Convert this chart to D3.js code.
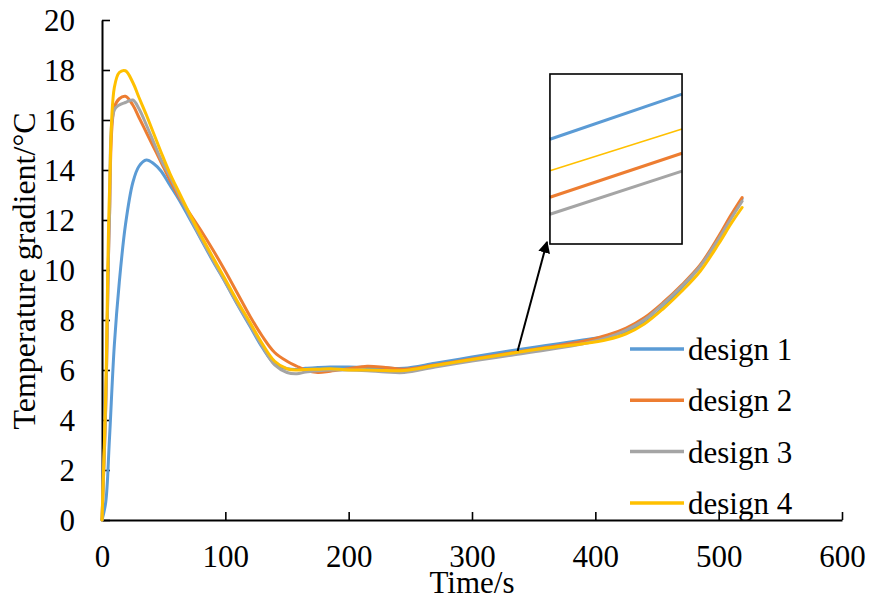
<!DOCTYPE html>
<html><head><meta charset="utf-8">
<script src="https://cdn.jsdelivr.net/npm/d3@7/dist/d3.min.js"></script>
<style>body{margin:0;background:#fff}svg{display:block}</style>
</head><body><svg id="c" width="871" height="601"></svg>
<script>
// ---- data ----
const time    = [0, 3, 6, 10, 14, 19, 25, 30, 36, 42, 48, 55, 62, 70, 80, 90, 100, 110, 120, 130, 140, 150, 158, 165, 175, 185, 200, 215, 230, 245, 270, 300, 330, 360, 390, 410, 425, 440, 455, 470, 485, 500, 510, 519];
const design1 = [0, 0.7, 3.2, 7.0, 9.5, 11.8, 13.5, 14.15, 14.4, 14.25, 13.95, 13.4, 12.85, 12.15, 11.25, 10.35, 9.5, 8.6, 7.75, 6.9, 6.25, 6.05, 6.02, 6.07, 6.1, 6.12, 6.12, 6.1, 6.08, 6.07, 6.27, 6.52, 6.76, 6.98, 7.2, 7.35, 7.55, 7.9, 8.5, 9.3, 10.15, 11.25, 12.1, 12.85];
const design2 = [0, 4.5, 12.0, 16.5, 16.85, 16.95, 16.6, 16.1, 15.5, 14.9, 14.3, 13.6, 12.95, 12.35, 11.6, 10.8, 9.95, 9.05, 8.15, 7.35, 6.7, 6.35, 6.15, 6.0, 5.9, 5.95, 6.05, 6.15, 6.1, 6.03, 6.2, 6.44, 6.67, 6.9, 7.15, 7.4, 7.68, 8.1, 8.7, 9.4, 10.2, 11.35, 12.2, 12.9];
const design3 = [0, 4.5, 12.0, 16.4, 16.6, 16.7, 16.8, 16.45, 15.8, 15.1, 14.4, 13.75, 13.05, 12.25, 11.3, 10.4, 9.52, 8.63, 7.8, 6.95, 6.2, 5.9, 5.85, 5.92, 5.97, 6.0, 6.0, 5.97, 5.92, 5.9, 6.12, 6.36, 6.58, 6.8, 7.05, 7.3, 7.6, 8.02, 8.65, 9.35, 10.15, 11.25, 12.05, 12.75];
const design4 = [0, 5.0, 13.0, 17.3, 17.9, 17.97, 17.5, 16.9, 16.2, 15.45, 14.7, 13.87, 13.15, 12.35, 11.4, 10.5, 9.62, 8.73, 7.9, 7.05, 6.35, 6.05, 6.0, 6.02, 6.03, 6.05, 6.0, 6.0, 5.98, 5.98, 6.18, 6.42, 6.65, 6.88, 7.05, 7.22, 7.45, 7.85, 8.45, 9.15, 9.95, 11.05, 11.85, 12.5];

const seriesNames  = ["design 1", "design 2", "design 3", "design 4"];
const seriesColors = ["#5B9BD5", "#ED7D31", "#A5A5A5", "#FFC000"];

const xTicks = [0, 100, 200, 300, 400, 500, 600];
const yTicks = [0, 2, 4, 6, 8, 10, 12, 14, 16, 18, 20];

// inset (magnified view): relative positions of each series at its left and right edge
const insetPos = [0, 1];
const inset1 = [0.616, 0.882];
const inset2 = [0.275, 0.534];
const inset3 = [0.175, 0.429];
const inset4 = [0.431, 0.676];
const insetWidths = [3, 3, 3, 1.5];
// inset box and arrow, in chart data coordinates
const insetBoxTime  = [363.2, 470.3];
const insetBoxValue = [11.04, 17.84];
const arrowFrom = [337, 6.76];
const arrowTo   = [360.8, 11.12];

// ---- chart ----
const svg = d3.select("#c");
const x = d3.scaleLinear().domain([0, 600]).range([102, 842]);
const y = d3.scaleLinear().domain([0, 20]).range([520, 20]);
const font = "'Liberation Serif','Times New Roman',serif";

const allSeries = [design1, design2, design3, design4];
const line = d3.line().x((d, i) => x(time[i])).y(d => y(d)).curve(d3.curveCatmullRom.alpha(0.5));

// axes
const xAxis = d3.axisBottom(x).tickValues(xTicks).tickSizeInner(-8).tickSizeOuter(0).tickPadding(25);
const gx = svg.append("g").attr("transform", "translate(0,520)").call(xAxis);
const yAxis = d3.axisLeft(y).tickValues(yTicks).tickSizeInner(-8).tickSizeOuter(0).tickPadding(27);
const gy = svg.append("g").attr("transform", "translate(102,0)").call(yAxis);
[gx, gy].forEach(g => {
  g.attr("font-family", font).attr("font-size", 31);
  g.select(".domain").attr("stroke", "#000").attr("stroke-width", 2);
  g.selectAll(".tick line").attr("stroke", "#000").attr("stroke-width", 1.6);
  g.selectAll(".tick text").attr("fill", "#000").style("font-family", font).style("font-size", "31px");
});
gx.selectAll(".tick text").attr("dy", "0.71em");
gy.selectAll(".tick text").attr("dy", "0.34em");

// series lines
svg.append("g").selectAll("path").data(allSeries).join("path")
  .attr("d", d => line(d)).attr("fill", "none")
  .attr("stroke", (d, i) => seriesColors[i]).attr("stroke-width", 3)
  .attr("stroke-linejoin", "round").attr("stroke-linecap", "round");

// axis titles
svg.append("text").attr("x", 472).attr("y", 593).attr("text-anchor", "middle")
  .style("font-family", font).style("font-size", "31px").text("Time/s");
svg.append("text").attr("transform", "translate(35,271) rotate(-90)").attr("text-anchor", "middle")
  .style("font-family", font).style("font-size", "32px").text("Temperature gradient/°C");

// legend
const lg = svg.append("g");
seriesNames.forEach((n, i) => {
  const ly = 349 + i * 51.3;
  lg.append("line").attr("x1", 630).attr("x2", 684).attr("y1", ly).attr("y2", ly)
    .attr("stroke", seriesColors[i]).attr("stroke-width", 3.5);
  lg.append("text").attr("x", 688).attr("y", ly + 11).style("font-family", font).style("font-size", "31px").text(n);
});

// arrow
svg.append("defs").append("marker").attr("id", "ah").attr("viewBox", "0 0 10 10")
  .attr("refX", 9).attr("refY", 5).attr("markerWidth", 6).attr("markerHeight", 6)
  .attr("markerUnits", "strokeWidth").attr("orient", "auto")
  .append("path").attr("d", "M0,0 L10,5 L0,10 z").attr("fill", "#000");
svg.append("line").attr("x1", x(arrowFrom[0])).attr("y1", y(arrowFrom[1]))
  .attr("x2", x(arrowTo[0])).attr("y2", y(arrowTo[1]))
  .attr("stroke", "#000").attr("stroke-width", 2).attr("marker-end", "url(#ah)");

// inset
const bx0 = x(insetBoxTime[0]), bx1 = x(insetBoxTime[1]);
const by0 = y(insetBoxValue[1]), by1 = y(insetBoxValue[0]);
const ix = d3.scaleLinear().domain([0, 1]).range([bx0, bx1]);
const iy = d3.scaleLinear().domain([0, 1]).range([by1, by0]);
svg.append("rect").attr("x", bx0).attr("y", by0).attr("width", bx1 - bx0).attr("height", by1 - by0)
  .attr("fill", "#fff").attr("stroke", "none");
const insetSeries = [inset1, inset2, inset3, inset4];
const iline = d3.line().x((d, i) => ix(insetPos[i])).y(d => iy(d));
svg.append("g").selectAll("path").data([0, 1, 2, 3]).join("path")
  .attr("d", i => iline(insetSeries[i])).attr("fill", "none")
  .attr("stroke", i => seriesColors[i]).attr("stroke-width", i => insetWidths[i]);
svg.append("rect").attr("x", bx0).attr("y", by0).attr("width", bx1 - bx0).attr("height", by1 - by0)
  .attr("fill", "none").attr("stroke", "#000").attr("stroke-width", 1.6);
</script></body></html>
